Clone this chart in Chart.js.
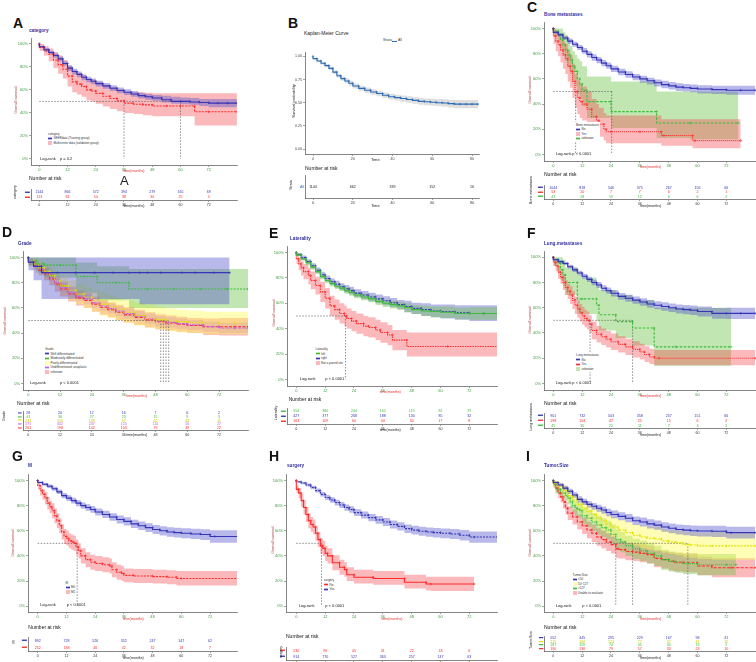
<!DOCTYPE html>
<html><head><meta charset="utf-8">
<script src="https://cdn.jsdelivr.net/npm/chart.js@4.4.1/dist/chart.umd.min.js"></script>
<style>
html,body{margin:0;padding:0;background:#fff}
body{position:relative;width:756px;height:662px;overflow:hidden;font-family:"Liberation Sans",Arial,sans-serif}
canvas{position:absolute;display:block}
.t{position:absolute;white-space:nowrap;line-height:1}
.lg{position:absolute;background:#fff;color:#333;font-size:3px;line-height:4.6px;padding:0.5px 1px;white-space:nowrap}
.lg i{display:inline-block;width:4px;height:3.4px;vertical-align:middle;margin-right:1.5px}
</style></head><body><script>
// ---------------- DATA ----------------
const MONTH_TICKS = [0,12,24,36,48,60,72];
const PCT_TICKS = [0,0.2,0.4,0.6,0.8,1];
const B_TIME_TICKS = [0,20,40,60,80];
const B_PROB_TICKS = [0,0.25,0.5,0.75,1];

// A: category
const A_seer_t  = [0,2,4,6,8,10,12,14,16,18,20,22,24,27,30,33,36,39,42,45,48,52,56,60,64,68,72,76,80,84];
const A_seer_s  = [1,.975,.95,.925,.90,.87,.83,.79,.76,.735,.71,.69,.675,.655,.635,.615,.595,.58,.565,.55,.54,.53,.515,.50,.50,.495,.49,.485,.485,.485];
const A_seer_lo = [1,.965,.935,.91,.88,.85,.81,.765,.735,.71,.685,.665,.65,.63,.61,.59,.57,.555,.54,.525,.515,.505,.49,.48,.475,.47,.46,.45,.45,.45];
const A_seer_hi = [1,.985,.965,.94,.92,.89,.85,.815,.785,.76,.735,.715,.70,.68,.66,.64,.62,.605,.59,.575,.565,.555,.55,.54,.535,.53,.52,.52,.52,.52];
const A_multi_t  = [0,2,4,6,8,10,12,14,16,18,20,22,24,27,30,33,36,40,44,48,54,60,66,72,84];
const A_multi_s  = [1,.97,.94,.91,.86,.82,.78,.72,.67,.65,.63,.60,.59,.57,.545,.525,.505,.485,.475,.47,.46,.46,.46,.41,.41];
const A_multi_lo = [1,.94,.90,.85,.79,.74,.70,.63,.58,.56,.54,.51,.50,.48,.455,.435,.415,.40,.39,.38,.37,.37,.37,.29,.29];
const A_multi_hi = [1,1,.98,.96,.93,.90,.86,.81,.77,.75,.73,.70,.69,.67,.645,.625,.605,.585,.58,.575,.57,.57,.57,.57,.57];
const A_medians = [36,60];
const A_risk_seer  = [1144,866,572,394,279,165,69];
const A_risk_multi = [113,81,54,38,30,25,5];

// B: overall
const B_t  = [0,2,4,6,8,10,12,14,16,18,20,23,26,29,32,35,38,41,44,47,50,53,56,59,62,65,68,71,74,77,80,83];
const B_s  = [1,.975,.95,.925,.90,.87,.83,.79,.76,.735,.71,.68,.655,.635,.615,.60,.58,.565,.555,.545,.535,.525,.515,.51,.505,.50,.497,.49,.485,.485,.485,.485];
const B_lo = [1,.966,.937,.91,.883,.85,.81,.768,.737,.71,.684,.653,.627,.606,.585,.57,.55,.534,.523,.512,.501,.49,.479,.473,.467,.461,.457,.448,.441,.44,.44,.44];
const B_hi = [1,.984,.963,.94,.917,.89,.85,.812,.783,.76,.736,.707,.683,.664,.645,.63,.61,.596,.587,.578,.569,.56,.551,.547,.543,.539,.537,.532,.529,.53,.53,.53];
const B_risk = [1144,662,339,152,16];

// C: bone metastases
const C_no_t  = [0,2,4,6,8,10,12,14,16,18,20,22,24,27,30,33,36,39,42,45,48,51,54,57,60,66,72,78,84];
const C_no_s  = [1,.97,.95,.925,.90,.875,.85,.82,.795,.77,.75,.725,.705,.68,.655,.635,.615,.60,.585,.57,.555,.545,.535,.53,.525,.52,.515,.51,.51];
const C_no_lo = [1,.96,.935,.91,.88,.855,.83,.80,.77,.745,.725,.70,.68,.655,.63,.61,.59,.57,.555,.54,.525,.515,.505,.50,.495,.485,.48,.475,.475];
const C_no_hi = [1,.98,.965,.94,.92,.895,.87,.845,.82,.795,.775,.75,.73,.705,.68,.66,.64,.625,.61,.595,.585,.575,.565,.56,.555,.55,.545,.545,.545];
const C_yes_t  = [0,1,2,3,4,5,6,7,8,9,10,11,12,14,16,18,19,21,22,24,36,45,46,58,59,78];
const C_yes_s  = [1,.94,.90,.87,.83,.79,.76,.70,.66,.58,.50,.45,.42,.40,.36,.30,.27,.24,.20,.18,.18,.18,.15,.15,.11,.11];
const C_yes_lo = [1,.88,.82,.78,.73,.68,.64,.58,.53,.45,.37,.32,.29,.27,.24,.19,.16,.14,.11,.09,.09,.09,.07,.07,.05,.05];
const C_yes_hi = [1,1,.98,.96,.93,.90,.88,.83,.79,.72,.64,.59,.56,.54,.50,.44,.40,.37,.33,.31,.31,.31,.28,.28,.28,.28];
const C_unk_t  = [0,2,3,4,5,6,7,8,9,10,11,12,14,24,43,57,77];
const C_unk_s  = [1,.98,.95,.91,.87,.83,.79,.75,.70,.66,.60,.56,.51,.42,.34,.25,.25];
const C_unk_lo = [1,.94,.89,.84,.79,.74,.69,.64,.58,.54,.48,.44,.38,.29,.21,.13,.12];
const C_unk_hi = [1,1,1,1,.97,.95,.92,.86,.82,.79,.76,.74,.70,.62,.58,.50,.50];
const C_medians = [9.3,24.3];
const C_risk_no  = [1044,818,546,375,267,156,66];
const C_risk_yes = [53,20,7,7,6,2,1];
const C_risk_unk = [47,28,19,12,6,6,2];

// D: grade
const D_well_t  = [0,2,5,11,18,25,32,38,42,45,50,58,63,70,76];
const D_well_s  = [1,.964,.93,.88,.88,.88,.88,.88,.88,.88,.88,.88,.88,.88,.88];
const D_well_lo = [1,.90,.82,.67,.67,.67,.67,.67,.67,.63,.63,.63,.63,.63,.63];
const D_well_hi = [1,1,1,1,1,1,1,1,1,1,1,1,1,1,1];
const D_mod_t  = [0,3,6,12,18,21,26,33,38,45,55,65,75,83];
const D_mod_s  = [1,.975,.95,.94,.94,.85,.85,.80,.80,.75,.75,.75,.75,.75];
const D_mod_lo = [1,.93,.88,.84,.84,.72,.72,.66,.66,.60,.60,.60,.60,.60];
const D_mod_hi = [1,1,1,1,1,.96,.96,.93,.93,.91,.91,.91,.91,.91];
const D_grid_t = [0,2,4,6,8,10,12,15,18,21,24,27,30,33,36,40,44,48,52,56,60,66,72,78,83];
const D_poor_s  = [1,.975,.95,.92,.89,.855,.815,.775,.74,.71,.685,.655,.63,.61,.59,.565,.54,.515,.505,.495,.49,.485,.48,.48,.48];
const D_poor_lo = [1,.95,.91,.87,.83,.79,.75,.70,.66,.63,.60,.57,.54,.52,.50,.48,.46,.445,.43,.415,.405,.40,.39,.39,.39];
const D_poor_hi = [1,1,.99,.97,.95,.92,.88,.85,.82,.79,.77,.74,.72,.70,.68,.66,.64,.625,.61,.595,.585,.58,.57,.57,.57];
const D_und_s  = [1,.97,.94,.91,.88,.84,.80,.76,.72,.69,.67,.64,.615,.595,.575,.555,.535,.515,.495,.485,.475,.465,.45,.44,.44];
const D_und_lo = [1,.955,.92,.885,.85,.81,.77,.725,.685,.655,.63,.60,.575,.555,.535,.515,.495,.475,.455,.445,.435,.425,.41,.40,.40];
const D_und_hi = [1,.985,.96,.935,.91,.87,.83,.795,.755,.725,.71,.68,.655,.635,.615,.595,.575,.555,.535,.525,.515,.505,.49,.48,.48];
const D_unk_s  = [1,.965,.935,.90,.87,.83,.79,.75,.71,.68,.66,.63,.605,.585,.565,.545,.525,.505,.49,.48,.47,.46,.45,.45,.45];
const D_unk_lo = [1,.94,.90,.86,.82,.78,.73,.69,.65,.62,.60,.57,.545,.525,.505,.485,.465,.445,.43,.42,.41,.40,.385,.38,.38];
const D_unk_hi = [1,.99,.97,.94,.92,.88,.85,.81,.77,.74,.72,.69,.665,.645,.625,.605,.585,.565,.55,.54,.53,.52,.515,.52,.52];
const D_medians = [50,51,52,53];
const D_risk_well = [28,20,17,16,7,6,2];
const D_risk_mod  = [41,36,27,23,15,9,3];
const D_risk_poor = [243,210,139,97,62,42,11];
const D_risk_und  = [571,402,247,155,110,56,27];
const D_risk_unk  = [261,198,142,103,79,49,22];

// E: laterality
const E_grid_t = [0,2,4,6,8,10,12,14,16,18,20,22,24,27,30,33,36,39,42,45,48,52,56,60,66,72,78,84];
const E_left_s  = [1,.98,.95,.92,.885,.85,.81,.78,.755,.735,.72,.70,.685,.665,.65,.635,.615,.60,.59,.58,.565,.55,.54,.535,.53,.52,.52,.52];
const E_left_lo = [1,.97,.935,.90,.865,.83,.79,.76,.733,.713,.697,.676,.66,.64,.624,.608,.587,.571,.56,.55,.53,.515,.50,.49,.485,.475,.47,.47];
const E_left_hi = [1,.99,.965,.94,.905,.87,.83,.80,.777,.757,.743,.724,.71,.69,.676,.662,.643,.629,.62,.61,.60,.585,.58,.575,.575,.565,.57,.57];
const E_right_s  = [1,.985,.96,.93,.895,.86,.825,.795,.77,.75,.73,.715,.70,.68,.665,.65,.635,.62,.605,.59,.575,.56,.55,.54,.535,.525,.52,.52];
const E_right_lo = [1,.974,.944,.912,.875,.838,.802,.77,.744,.723,.702,.686,.67,.649,.633,.617,.601,.585,.569,.553,.53,.515,.50,.49,.48,.47,.46,.46];
const E_right_hi = [1,.996,.976,.948,.915,.882,.848,.82,.796,.777,.758,.744,.73,.711,.697,.683,.669,.655,.641,.627,.62,.605,.60,.59,.59,.585,.585,.585];
const E_np_t  = [0,1,2,3,5,6,8,10,12,14,16,18,20,21,23,25,28,30,33,35,38,40,46,63,84];
const E_np_s  = [1,.95,.91,.88,.85,.82,.78,.74,.69,.64,.58,.55,.52,.50,.48,.46,.44,.42,.41,.39,.37,.35,.31,.26,.26];
const E_np_lo = [1,.91,.86,.82,.79,.75,.71,.67,.61,.56,.50,.47,.44,.42,.40,.38,.36,.34,.33,.31,.29,.27,.23,.18,.18];
const E_np_hi = [1,.99,.96,.93,.91,.88,.85,.81,.77,.72,.66,.63,.60,.58,.56,.54,.52,.50,.49,.47,.45,.43,.39,.37,.37];
const E_medians = [20.5];
const E_risk_left  = [554,380,244,162,119,81,29];
const E_risk_right = [427,377,268,188,130,85,32];
const E_risk_np    = [163,109,60,44,30,17,8];

// F: lung metastases
const F_no_t  = [0,2,4,6,8,10,12,14,16,18,20,22,24,27,30,33,36,39,42,45,48,51,54,57,60,66,72,78,84];
const F_no_s  = [1,.98,.965,.95,.925,.90,.875,.85,.825,.80,.78,.755,.735,.715,.69,.675,.66,.645,.63,.62,.61,.60,.59,.585,.58,.57,.555,.555,.555];
const F_no_lo = [1,.97,.953,.936,.91,.884,.857,.83,.804,.778,.757,.731,.71,.689,.663,.647,.631,.615,.599,.588,.577,.566,.555,.549,.543,.531,.513,.51,.51];
const F_no_hi = [1,.99,.977,.964,.94,.916,.893,.87,.846,.822,.803,.779,.76,.741,.717,.703,.689,.675,.661,.652,.643,.634,.625,.621,.617,.609,.597,.60,.60];
const F_yes_t  = [0,1,2,3,4,5,6,7,8,9,10,11,12,13,14,15,16,18,20,22,24,27,30,33,36,38,40,42,44,84];
const F_yes_s  = [1,.96,.93,.88,.84,.80,.76,.73,.70,.66,.62,.59,.56,.535,.515,.50,.47,.42,.39,.37,.35,.33,.31,.29,.27,.25,.23,.21,.20,.20];
const F_yes_lo = [1,.93,.89,.83,.79,.74,.70,.67,.63,.59,.55,.52,.49,.465,.445,.43,.40,.35,.325,.305,.285,.265,.245,.225,.205,.19,.17,.155,.145,.145];
const F_yes_hi = [1,.99,.97,.93,.89,.86,.82,.79,.77,.73,.69,.66,.63,.605,.585,.57,.54,.49,.455,.435,.415,.395,.375,.355,.335,.315,.295,.275,.265,.265];
const F_unk_t  = [0,2,3,4,5,10,12,18,19,26,33,42,51,74];
const F_unk_s  = [1,.98,.95,.90,.86,.80,.67,.67,.62,.545,.49,.44,.29,.29];
const F_unk_lo = [1,.93,.88,.82,.77,.70,.55,.55,.49,.42,.36,.30,.14,.14];
const F_unk_hi = [1,1,1,1,.98,.92,.86,.84,.80,.74,.70,.66,.60,.60];
const F_medians = [15.3,33];
const F_risk_no  = [901,732,503,358,257,151,66];
const F_risk_yes = [198,104,47,25,15,6,2];
const F_risk_unk = [45,30,22,11,7,3,2];

// G: M
const G_m0_t  = [0,2,4,6,8,10,12,14,16,18,20,22,24,27,30,33,36,39,42,45,48,51,54,57,60,64,68,72,74,84];
const G_m0_s  = [1,.985,.97,.955,.935,.91,.88,.86,.84,.82,.80,.785,.77,.75,.73,.71,.69,.675,.655,.64,.625,.61,.60,.59,.585,.58,.575,.57,.555,.555];
const G_m0_lo = [1,.977,.959,.941,.919,.892,.86,.838,.817,.796,.775,.759,.743,.722,.701,.68,.659,.643,.622,.606,.59,.574,.563,.552,.546,.54,.534,.527,.505,.505];
const G_m0_hi = [1,.993,.981,.969,.951,.928,.90,.882,.863,.844,.825,.811,.797,.778,.759,.74,.721,.707,.688,.674,.66,.646,.637,.628,.624,.62,.616,.613,.605,.605];
const G_m1_t  = [0,1,2,3,4,5,6,7,8,9,10,11,12,13,14,15,16,17,18,20,22,24,27,30,31,33,35,36,40,48,54,58,60,84];
const G_m1_s  = [1,.96,.92,.89,.86,.82,.79,.76,.72,.68,.64,.59,.555,.54,.52,.51,.50,.47,.44,.40,.37,.35,.34,.33,.32,.29,.27,.26,.245,.24,.235,.23,.22,.22];
const G_m1_lo = [1,.93,.88,.85,.81,.77,.74,.70,.66,.62,.58,.53,.495,.48,.46,.45,.44,.41,.38,.34,.31,.29,.28,.27,.26,.23,.21,.20,.19,.185,.18,.175,.165,.165];
const G_m1_hi = [1,.99,.96,.93,.91,.87,.84,.82,.78,.74,.70,.65,.615,.60,.58,.57,.56,.53,.50,.46,.43,.41,.40,.39,.38,.35,.33,.32,.30,.295,.29,.285,.28,.28];
const G_medians = [16.5];
const G_risk_m0 = [892,728,526,352,247,147,62];
const G_risk_m1 = [252,138,46,42,32,18,7];

// H: surgery
const H_no_t  = [0,1,2,3,4,5,6,7,8,9,10,11,12,13,15,18,20,21,24,32,45,54,56,74];
const H_no_s  = [1,.93,.90,.84,.785,.73,.68,.65,.63,.58,.53,.48,.46,.42,.40,.345,.31,.29,.25,.23,.22,.19,.176,.176];
const H_no_lo = [1,.90,.86,.79,.73,.67,.62,.59,.57,.52,.47,.42,.40,.36,.34,.285,.25,.235,.20,.18,.17,.14,.125,.12];
const H_no_hi = [1,.96,.94,.89,.84,.79,.74,.71,.69,.64,.59,.54,.52,.48,.46,.405,.37,.35,.31,.29,.28,.25,.235,.235];
const H_yes_t  = [0,2,4,6,8,10,12,14,16,18,20,22,24,27,30,33,36,39,42,45,48,51,54,57,60,64,68,72,74,84];
const H_yes_s  = [1,.99,.98,.965,.945,.92,.89,.865,.845,.825,.805,.785,.77,.745,.725,.705,.687,.67,.65,.635,.617,.605,.596,.59,.585,.58,.575,.565,.55,.55];
const H_yes_lo = [1,.983,.971,.953,.931,.904,.872,.845,.823,.802,.781,.76,.744,.718,.697,.676,.657,.639,.618,.602,.583,.57,.56,.553,.547,.541,.535,.523,.505,.505];
const H_yes_hi = [1,.997,.989,.977,.959,.936,.908,.885,.867,.848,.829,.81,.796,.772,.753,.734,.717,.701,.682,.668,.651,.64,.632,.627,.623,.619,.615,.607,.595,.595];
const H_medians = [10.5];
const H_risk_no  = [230,96,45,31,22,18,6];
const H_risk_yes = [914,770,527,363,257,147,63];

// I: tumor size
const I_s50_t  = [0,2,4,6,8,10,12,14,16,18,20,22,24,27,30,33,36,39,42,45,48,51,54,57,60,66,72,74,84];
const I_s50_s  = [1,.985,.965,.94,.915,.885,.85,.83,.81,.795,.78,.765,.746,.73,.715,.70,.68,.67,.655,.645,.63,.62,.61,.605,.60,.598,.596,.585,.585];
const I_s50_lo = [1,.975,.95,.922,.895,.863,.826,.805,.784,.768,.752,.736,.716,.699,.683,.667,.646,.635,.619,.608,.592,.581,.57,.564,.558,.555,.551,.538,.538];
const I_s50_hi = [1,.995,.98,.958,.935,.907,.874,.855,.836,.822,.808,.794,.776,.761,.747,.733,.714,.705,.691,.682,.668,.659,.65,.646,.642,.641,.641,.632,.632];
const I_mid_t  = [0,2,4,6,8,10,12,14,16,18,20,22,24,27,30,33,36,39,42,45,48,51,54,57,60,66,72,84];
const I_mid_s  = [1,.98,.955,.92,.88,.845,.81,.78,.755,.73,.70,.68,.655,.63,.606,.585,.565,.55,.54,.535,.52,.51,.505,.49,.487,.48,.48,.48];
const I_mid_lo = [1,.96,.925,.88,.835,.795,.755,.72,.69,.665,.63,.605,.58,.55,.525,.50,.48,.46,.45,.44,.425,.415,.405,.39,.385,.375,.37,.37];
const I_mid_hi = [1,1,.985,.96,.925,.895,.865,.84,.82,.795,.77,.755,.73,.71,.687,.67,.65,.64,.63,.63,.615,.605,.605,.59,.59,.585,.59,.59];
const I_big_t  = [0,1,3,5,6,7,8,9,10,11,12,14,16,18,20,22,24,26,28,30,33,36,39,42,45,48,51,54,60,72,76];
const I_big_s  = [1,.97,.93,.90,.88,.86,.83,.80,.78,.77,.76,.72,.70,.67,.645,.625,.606,.57,.53,.51,.48,.456,.44,.42,.40,.37,.355,.345,.337,.33,.33];
const I_big_lo = [1,.945,.895,.86,.835,.81,.78,.745,.72,.71,.70,.655,.63,.60,.57,.55,.53,.49,.45,.43,.40,.375,.36,.34,.32,.29,.275,.265,.255,.245,.245];
const I_big_hi = [1,.995,.965,.94,.925,.91,.88,.855,.84,.83,.82,.785,.77,.74,.72,.70,.68,.65,.61,.59,.56,.537,.52,.50,.48,.45,.435,.425,.42,.415,.415];
const I_ue_t  = [0,1,2,3,4,5,6,8,10,12,14,16,18,20,22,24,26,27,30,33,36,39,42,45,48,50,54,60,66,74,84];
const I_ue_s  = [1,.97,.94,.90,.87,.83,.78,.74,.71,.67,.64,.606,.58,.55,.53,.51,.49,.456,.45,.435,.43,.42,.41,.38,.37,.358,.35,.345,.32,.306,.306];
const I_ue_lo = [1,.945,.905,.86,.825,.78,.73,.685,.65,.61,.575,.54,.51,.48,.46,.44,.42,.385,.38,.365,.36,.35,.34,.31,.30,.285,.275,.27,.245,.23,.23];
const I_ue_hi = [1,.995,.975,.94,.915,.88,.83,.795,.77,.73,.705,.672,.65,.62,.60,.58,.56,.527,.52,.505,.50,.49,.48,.45,.44,.431,.425,.42,.395,.382,.382];
const I_medians = [26,33,56];
const I_risk_s50 = [552,445,295,229,167,98,41];
const I_risk_mid = [215,166,124,77,47,41,10];
const I_risk_big = [187,119,74,45,30,13,5];
const I_risk_ue  = [190,136,79,57,33,23,10];

// ---------------- STYLE ----------------
const FONT = '"Liberation Sans", Arial, sans-serif';
Chart.defaults.font.family = FONT;
const BLUE='#3535b5', BLUE_B='rgba(85,85,205,0.42)';
const RED='#ff2a2a', RED_B='rgba(245,70,80,0.38)';
const GREEN='#3dbb3d', GREEN_B='rgba(110,195,70,0.42)';
const YEL='#e2e200', YEL_B='rgba(255,250,80,0.42)';
const PUR='#c060e0', PUR_B='rgba(190,100,230,0.38)';
const STEEL='#2f6db5';
const TICKG='#3c9a3c', AXIS='#666';

function pts(t, v){ return t.map((x,i)=>({x:x, y:v[i]})); }
function canvasAt(l,t,w,h){
  const c=document.createElement('canvas'); c.width=w; c.height=h;
  c.style.left=l+'px'; c.style.top=t+'px'; c.style.width=w+'px'; c.style.height=h+'px';
  document.body.appendChild(c); return c;
}
function axis(min,max,ticks,cb,size,color,isX,fix){
  return {type:'linear', min:min, max:max,
    afterFit: s => { if(isX) s.height=fix; else s.width=fix; },
    afterBuildTicks: s => { s.ticks = ticks.map(v=>({value:v})); },
    ticks:{callback:cb, font:{size:size}, color:color, padding:isX?0.5:1, autoSkip:false, maxRotation:0, minRotation:0},
    grid:{drawOnChartArea:false, tickLength:2, color:AXIS, lineWidth:0.6},
    border:{color:AXIS, width:0.8}};
}
function geo(g){
  const ppu = g.ppu || (g.x72-g.x0)/72;
  const L=Math.round(g.L), R=Math.round(g.R);
  return {ppu, L, R, xmin:(L-g.x0)/ppu, xmax:(R-g.x0)/ppu};
}
const baseOpts = {responsive:false, animation:false, devicePixelRatio:1, events:[],
  plugins:{legend:{display:false}, tooltip:{enabled:false}}};

function kmChart(g, curves, medians, o){
  o = o || {};
  const G = geo(g);
  const upp = g.y0-g.y100;
  const T=Math.round(g.y100-0.05*upp), B=Math.round(g.y0+0.05*upp);
  const ymax = 1+(g.y100-T)/upp, ymin = -(B-g.y0)/upp;
  const YW=20, XH=9;
  const cv = canvasAt(G.L-YW, T, G.R-G.L+YW+2, B-T+XH);
  const ds=[];
  curves.forEach(c=>{
    ds.push({data:pts(c.t,c.hi), borderWidth:0, pointRadius:0, stepped:'after', fill:'+1', backgroundColor:c.band, order:3});
    ds.push({data:pts(c.t,c.lo), borderWidth:0, pointRadius:0, stepped:'after', fill:false, order:3});
  });
  const dash = {borderColor:'#444', borderWidth:0.6, borderDash:[1.5,1.5], pointRadius:0, fill:false, order:1};
  if(medians && medians.length){
    const mx=Math.max(...medians);
    ds.push(Object.assign({data:[{x:0,y:0.5},{x:mx,y:0.5}]}, dash));
    medians.forEach(m=>ds.push(Object.assign({data:[{x:m,y:0.5},{x:m,y:0}]}, dash)));
  }
  curves.forEach(c=>ds.push({data:pts(c.t,c.s), borderColor:c.color, borderWidth:1.1, borderDash:c.dash||[], stepped:'after', fill:false,
    pointStyle:'cross', pointRadius:1.3, pointBorderWidth:0.6, pointBorderColor:c.color, pointBackgroundColor:c.color, order:0}));
  const xt=o.xticks||MONTH_TICKS, yt=o.yticks||PCT_TICKS;
  const ycb=o.ycb||(v=>Math.round(v*100)+'%');
  const tc=o.tickColor||TICKG, ts=o.tickSize||4;
  new Chart(cv,{type:'line', data:{datasets:ds}, options:Object.assign({}, baseOpts, {
    layout:{padding:{left:0,right:2,top:0,bottom:0}, autoPadding:false},
    scales:{x:axis(G.xmin,G.xmax,xt,v=>v,ts,tc,true,XH), y:axis(ymin,ymax,yt,ycb,ts,tc,false,YW)}})});
}

const NUMS = {id:'nums', afterDatasetsDraw(ch){
  const ctx=ch.ctx;
  ch.data.datasets.forEach((d,di)=>{
    if(!d.nums) return;
    const m=ch.getDatasetMeta(di);
    ctx.save(); ctx.fillStyle=d.numColor; ctx.font='3.6px '+FONT; ctx.textAlign='center'; ctx.textBaseline='middle';
    m.data.forEach((el,i)=>ctx.fillText(String(d.nums[i]), el.x, el.y));
    ctx.restore();
  });
}};

function riskChart(g, Tt, Bt, rows, o){
  o=o||{};
  const G=geo(g);
  const times=o.times||MONTH_TICKS;
  const top=Math.round(Tt), bot=Math.round(Bt);
  const YW=o.yw||14, XH=7, n=rows.length;
  const cv=canvasAt(G.L-YW, top, G.R-G.L+YW+2, bot-top+XH);
  const ds=rows.map((r,i)=>({data:times.map(t=>({x:t,y:i})), pointRadius:0, showLine:false, nums:r.nums, numColor:r.num||r.color}));
  new Chart(cv,{type:'scatter', data:{datasets:ds}, plugins:[NUMS], options:Object.assign({}, baseOpts, {
    layout:{padding:{left:0,right:2,top:0,bottom:0}, autoPadding:false},
    scales:{
      x:axis(G.xmin,G.xmax,times,v=>v,3.6,'#333',true,XH),
      y:{type:'linear', min:-0.5, max:n-0.5, reverse:true,
        afterFit:s=>{s.width=YW},
        afterBuildTicks:s=>{s.ticks=rows.map((r,i)=>({value:i}))},
        ticks:{callback:(v,i)=>o.labels?o.labels[i]:'\u2501', color:c=>rows[c.index]?rows[c.index].color:'#000',
          font:{size:o.lsize||8}, padding:1, autoSkip:false},
        grid:{drawOnChartArea:false, drawTicks:false, tickLength:0},
        border:{color:AXIS, width:0.8}}
    }})});
}

// ---------------- TEXT HELPERS ----------------
function txt(x,y,s,size,css){
  const d=document.createElement('div'); d.className='t'; d.textContent=s;
  d.style.left=x+'px'; d.style.top=y+'px'; d.style.fontSize=size+'px';
  d.style.transform='translateY(-50%)';
  Object.assign(d.style, css||{});
  document.body.appendChild(d); return d;
}
function ctxt(x,y,s,size,css){ return txt(x,y,s,size,Object.assign({transform:'translate(-50%,-50%)'},css||{})); }
function vtxt(x,y,s,size,css){ return txt(x,y,s,size,Object.assign({transform:'translate(-50%,-50%) rotate(-90deg)'},css||{})); }
function legend(x,y,title,items){
  const d=document.createElement('div'); d.className='lg';
  d.style.left=x+'px'; d.style.top=y+'px';
  let h='<div>'+title+'</div>';
  items.forEach(it=>{
    h+='<div><i style="background:linear-gradient(to bottom,'+it[2]+' 0,'+it[2]+' 38%,'+it[1]+' 38%,'+it[1]+' 62%,'+it[2]+' 62%,'+it[2]+' 100%)"></i>'+it[0]+'</div>';
  });
  d.innerHTML=h; document.body.appendChild(d);
}
const LETTER={fontWeight:'bold', color:'#111'};
const TITLE={fontWeight:'bold', color:'#2f2f9f'};
const YT={color:'#b03a3a'}, XT={color:'#e03030'};
function decor(p){
  txt(p.letter[0],p.letter[1],p.name,14,LETTER);
  txt(p.title[0],p.title[1],p.titleText,4.7,TITLE);
  vtxt(p.ytitle[0],p.ytitle[1],'Overall survival',4,YT);
  ctxt(p.xtitle[0],p.xtitle[1],'time(months)',3.6,XT);
  txt(p.nar[0],p.nar[1],'Number at risk',5,{color:'#111'});
  vtxt(p.rtitle[0],p.rtitle[1],p.rtitleText,3.6,{color:'#111'});
  ctxt(p.rxtitle[0],p.rxtitle[1],'time(months)',3.6,{color:'#222'});
  txt(p.lr[0],p.lr[1],'Log-rank',4,{color:'#222'});
  txt(p.lr[2],p.lr[1],p.pval,4,{color:'#222'});
}

// ---------------- PANELS ----------------
// A
const gA={x0:39.3,x72:208.7,L:31,R:237,y100:40.7,y0:158.7};
kmChart(gA,[
  {t:A_seer_t,s:A_seer_s,lo:A_seer_lo,hi:A_seer_hi,color:BLUE,band:BLUE_B},
  {t:A_multi_t,s:A_multi_s,lo:A_multi_lo,hi:A_multi_hi,color:RED,band:RED_B,dash:[2,1.2]}],A_medians);
riskChart(gA,184,199.5,[{nums:A_risk_seer,color:BLUE},{nums:A_risk_multi,color:RED}]);
decor({name:'A',letter:[13,23],title:[29,30.5],titleText:'category',ytitle:[15.7,100],xtitle:[134,172],nar:[29,178],
  rtitle:[16,192],rtitleText:'category',rxtitle:[134,207],lr:[40,158.7,60],pval:'p = 0.2'});
legend(47,131,'category',[['SEERdata (Training group)',BLUE,BLUE_B],['Multicenter data (validation group)',RED,RED_B]]);
txt(120,179.5,'A',13,{color:'#222'});

// B
const gB={x0:313,ppu:1.9875,L:305,R:479,y100:53.3,y0:149};
kmChart(gB,[{t:B_t,s:B_s,lo:B_lo,hi:B_hi,color:STEEL,band:'rgba(150,150,150,0.3)'}],[],
  {xticks:B_TIME_TICKS,yticks:B_PROB_TICKS,ycb:v=>v.toFixed(2),tickColor:'#444',tickSize:3.6});
riskChart(gB,172,198,[{nums:B_risk,color:STEEL,num:'#222'}],{times:B_TIME_TICKS,labels:['All'],lsize:3.6,yw:10});
txt(288,23,'B',14,LETTER);
txt(304,33,'Kaplan-Meier Curve',5,{color:'#222'});
txt(383,41,'Strata',3.4,{color:'#333'});
(function(){const k=document.createElement('div');k.style.cssText='position:absolute;left:391.5px;top:40.5px;width:5px;height:1px;background:'+STEEL;document.body.appendChild(k);})();
txt(398,41,'All',3.4,{color:'#333'});
vtxt(293.7,101,'Survival probability',4,{color:'#222'});
ctxt(375.3,160.3,'Time',4,{color:'#222'});
txt(305,168,'Number at risk',5,{color:'#111'});
vtxt(292,185,'Strata',3.6,{color:'#222'});
ctxt(375.3,205.7,'Time',4,{color:'#222'});

// C
const gC={x0:553.3,x72:726.3,L:544,R:756,y100:25.3,y0:154.3};
kmChart(gC,[
  {t:C_no_t,s:C_no_s,lo:C_no_lo,hi:C_no_hi,color:BLUE,band:BLUE_B},
  {t:C_yes_t,s:C_yes_s,lo:C_yes_lo,hi:C_yes_hi,color:RED,band:RED_B,dash:[1,1]},
  {t:C_unk_t,s:C_unk_s,lo:C_unk_lo,hi:C_unk_hi,color:GREEN,band:GREEN_B,dash:[2.5,1.5]}],C_medians);
riskChart(gC,180,199,[{nums:C_risk_no,color:BLUE},{nums:C_risk_yes,color:RED},{nums:C_risk_unk,color:GREEN}]);
decor({name:'C',letter:[527,7],title:[544,15],titleText:'Bone metastases',ytitle:[530,90],xtitle:[650.7,167.7],nar:[544,174],
  rtitle:[532,190],rtitleText:'Bone metastases',rxtitle:[650.7,207.3],lr:[555.7,154.3,572.3],pval:'p < 0.0001'});
legend(575,122,'Bone metastases',[['No',BLUE,BLUE_B],['Yes',RED,RED_B],['unknown',GREEN,GREEN_B]]);

// D
const gD={x0:28.3,x72:219,L:23,R:248,y100:254.3,y0:383.3};
kmChart(gD,[
  {t:D_well_t,s:D_well_s,lo:D_well_lo,hi:D_well_hi,color:BLUE,band:BLUE_B},
  {t:D_mod_t,s:D_mod_s,lo:D_mod_lo,hi:D_mod_hi,color:GREEN,band:GREEN_B,dash:[2,1.2]},
  {t:D_grid_t,s:D_poor_s,lo:D_poor_lo,hi:D_poor_hi,color:YEL,band:YEL_B,dash:[1,1]},
  {t:D_grid_t,s:D_und_s,lo:D_und_lo,hi:D_und_hi,color:PUR,band:PUR_B,dash:[2.5,1,1,1]},
  {t:D_grid_t,s:D_unk_s,lo:D_unk_lo,hi:D_unk_hi,color:RED,band:RED_B,dash:[3,1.5]}],D_medians);
riskChart(gD,406.5,429.5,[{nums:D_risk_well,color:BLUE},{nums:D_risk_mod,color:GREEN},{nums:D_risk_poor,color:YEL,num:'#c8c800'},
  {nums:D_risk_und,color:PUR},{nums:D_risk_unk,color:RED}],{lsize:6});
decor({name:'D',letter:[2,232],title:[18,244],titleText:'Grade',ytitle:[5,321],xtitle:[136.7,397],nar:[17,403.3],
  rtitle:[5,416],rtitleText:'Grade',rxtitle:[136.7,435.7],lr:[30,383.3,60],pval:'p < 0.0001'});
legend(44,346.5,'Grade',[['Well differentiated',BLUE,BLUE_B],['Moderately differentiated',GREEN,GREEN_B],['Poorly differentiated',YEL,YEL_B],
  ['Undifferentiated; anaplastic',PUR,PUR_B],['unknown',RED,RED_B]]);

// E
const gE={x0:296.3,x72:469.3,L:287,R:497,y100:249.3,y0:379.3};
kmChart(gE,[
  {t:E_grid_t,s:E_left_s,lo:E_left_lo,hi:E_left_hi,color:GREEN,band:GREEN_B},
  {t:E_grid_t,s:E_right_s,lo:E_right_lo,hi:E_right_hi,color:BLUE,band:BLUE_B,dash:[2,1.2]},
  {t:E_np_t,s:E_np_s,lo:E_np_lo,hi:E_np_hi,color:RED,band:RED_B,dash:[1.5,1]}],E_medians);
riskChart(gE,403,423.5,[{nums:E_risk_left,color:GREEN},{nums:E_risk_right,color:BLUE},{nums:E_risk_np,color:RED}]);
decor({name:'E',letter:[269,232.5],title:[290,239],titleText:'Laterality',ytitle:[273.7,313],xtitle:[390.3,392.7],nar:[288.7,399],
  rtitle:[277,412.7],rtitleText:'Laterality',rxtitle:[390.3,431],lr:[299.7,379.3,325.3],pval:'p < 0.0001'});
legend(314.5,346.5,'Laterality',[['left',GREEN,GREEN_B],['right',BLUE,BLUE_B],['Not a paired site',RED,RED_B]]);

// F
const gF={x0:553.3,x72:726.3,L:544,R:756,y100:254,y0:383.3};
kmChart(gF,[
  {t:F_no_t,s:F_no_s,lo:F_no_lo,hi:F_no_hi,color:BLUE,band:BLUE_B},
  {t:F_yes_t,s:F_yes_s,lo:F_yes_lo,hi:F_yes_hi,color:RED,band:RED_B,dash:[1,1]},
  {t:F_unk_t,s:F_unk_s,lo:F_unk_lo,hi:F_unk_hi,color:GREEN,band:GREEN_B,dash:[2.5,1.5]}],F_medians);
riskChart(gF,408,427.5,[{nums:F_risk_no,color:BLUE},{nums:F_risk_yes,color:RED},{nums:F_risk_unk,color:GREEN}]);
decor({name:'F',letter:[527,232.5],title:[544,244],titleText:'Lung.metastases',ytitle:[530,320],xtitle:[650.7,396.7],nar:[544,403.3],
  rtitle:[532,416.7],rtitleText:'Lung metastases',rxtitle:[650.7,436],lr:[555.7,383.3,572.3],pval:'p < 0.0001'});
legend(575,352.5,'Lung metastases',[['No',BLUE,BLUE_B],['Yes',RED,RED_B],['unknown',GREEN,GREEN_B]]);

// G
const gG={x0:37.7,x72:210,L:28,R:237,y100:477.3,y0:606};
kmChart(gG,[
  {t:G_m0_t,s:G_m0_s,lo:G_m0_lo,hi:G_m0_hi,color:BLUE,band:BLUE_B},
  {t:G_m1_t,s:G_m1_s,lo:G_m1_lo,hi:G_m1_hi,color:RED,band:RED_B,dash:[2,1.2]}],G_medians);
riskChart(gG,632,651,[{nums:G_risk_m0,color:BLUE},{nums:G_risk_m1,color:RED}]);
decor({name:'G',letter:[12,456],title:[28,465.5],titleText:'M',ytitle:[13,543],xtitle:[133.3,620],nar:[28.3,627.3],
  rtitle:[15,641.7],rtitleText:'M',rxtitle:[133.3,658.7],lr:[40,604.7,66.7],pval:'p < 0.0001'});
legend(64.5,580,'M',[['M0',BLUE,BLUE_B],['M1',RED,RED_B]]);

// H
const gH={x0:296.3,x72:469.3,L:286,R:497,y100:477.3,y0:606};
kmChart(gH,[
  {t:H_no_t,s:H_no_s,lo:H_no_lo,hi:H_no_hi,color:RED,band:RED_B},
  {t:H_yes_t,s:H_yes_s,lo:H_yes_lo,hi:H_yes_hi,color:BLUE,band:BLUE_B,dash:[2,1.2]}],H_medians);
riskChart(gH,641.5,660,[{nums:H_risk_no,color:RED},{nums:H_risk_yes,color:BLUE}]);
decor({name:'H',letter:[269,456],title:[287,466],titleText:'surgery',ytitle:[272.7,540],xtitle:[392,620],nar:[286,636],
  rtitle:[282,651.7],rtitleText:'surgery',rxtitle:[392,665],lr:[298.7,605.7,325.3],pval:'p < 0.0001'});
legend(323,577.5,'surgery',[['No',RED,RED_B],['Yes',BLUE,BLUE_B]]);

// I
const gI={x0:553.3,x72:726.3,L:544,R:756,y100:477.3,y0:606};
kmChart(gI,[
  {t:I_s50_t,s:I_s50_s,lo:I_s50_lo,hi:I_s50_hi,color:BLUE,band:BLUE_B},
  {t:I_mid_t,s:I_mid_s,lo:I_mid_lo,hi:I_mid_hi,color:YEL,band:YEL_B,dash:[2,1.2]},
  {t:I_big_t,s:I_big_s,lo:I_big_lo,hi:I_big_hi,color:GREEN,band:GREEN_B,dash:[1,1]},
  {t:I_ue_t,s:I_ue_s,lo:I_ue_lo,hi:I_ue_hi,color:RED,band:RED_B,dash:[3,1.5]}],I_medians);
riskChart(gI,630.5,651,[{nums:I_risk_s50,color:BLUE},{nums:I_risk_mid,color:YEL,num:'#c8c800'},{nums:I_risk_big,color:GREEN},{nums:I_risk_ue,color:RED}],{lsize:7});
decor({name:'I',letter:[526,456],title:[544,466],titleText:'Tumor.Size',ytitle:[530,543],xtitle:[650.7,620],nar:[544,627.3],
  rtitle:[532,640],rtitleText:'Tumor.Size',rxtitle:[650.7,659],lr:[555.7,605.7,582.3],pval:'p < 0.0001'});
legend(571.5,572,'Tumor.Size',[['<50',BLUE,BLUE_B],['50~127',YEL,YEL_B],['>127',GREEN,GREEN_B],['Unable to evaluate',RED,RED_B]]);
</script></body></html>
